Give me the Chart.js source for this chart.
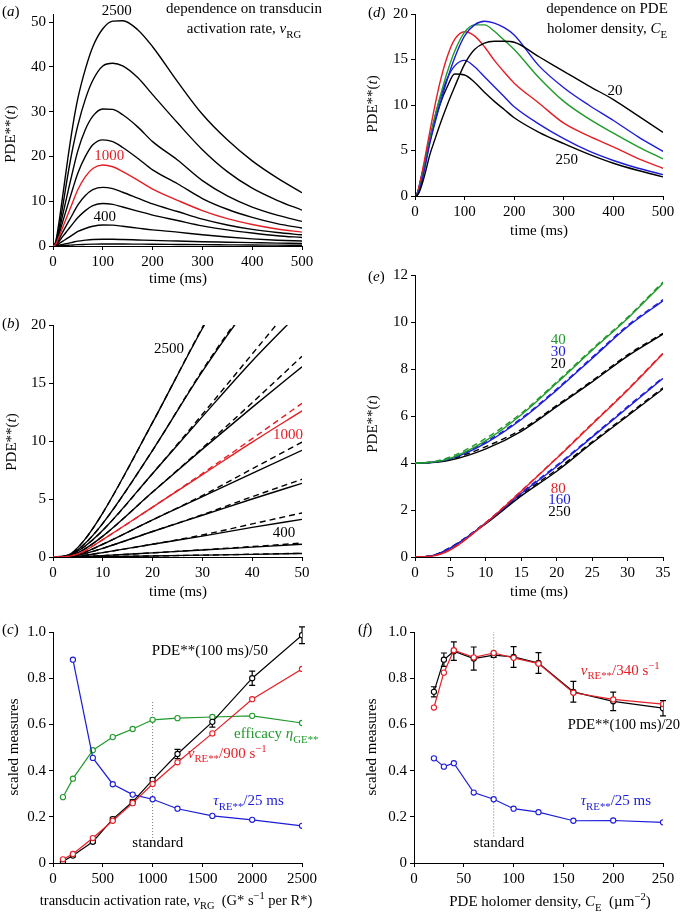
<!DOCTYPE html>
<html lang="en">
<head>
<meta charset="UTF-8">
<title>PDE activation panels</title>
<script src="https://cdn.jsdelivr.net/npm/chart.js"></script>
<style>
  body { margin: 0; background: #fff; }
  canvas { position: absolute; left: 0; top: 0; }
</style>
</head>
<body>
<canvas id="ca" width="680" height="916"></canvas>
<canvas id="cb" width="680" height="916"></canvas>
<canvas id="cc" width="680" height="916"></canvas>
<canvas id="cd" width="680" height="916"></canvas>
<canvas id="ce" width="680" height="916"></canvas>
<canvas id="cf" width="680" height="916"></canvas>
<script>
// ---- (a) PDE**(t) for different transducin activation rates, 0-500 ms
const ta = [0, 5, 10, 20, 30, 40, 50, 65, 80, 100, 120, 140, 170, 200, 250, 300, 350, 400, 450, 500];
const a2500 = [0, 0.8, 3.8, 11.6, 19.7, 27, 33, 39.5, 44.5, 48.5, 50.2, 50.3, 48.3, 44.5, 36.7, 29.4, 23.7, 19.0, 15.2, 11.9];
const a2000 = [0, 0.6, 2.9, 9.2, 16, 22, 27, 32.8, 37, 40.2, 40.8, 40.2, 37.6, 33.8, 27.5, 21.5, 16.6, 12.9, 10.2, 8.0];
const a1600 = [0, 0.5, 2.3, 7.2, 12.1, 16.9, 21.3, 26, 29, 30.6, 30.5, 29.3, 26.6, 23.3, 19.2, 14.6, 11.2, 8.7, 6.9, 5.5];
const a1250 = [0, 0.4, 1.8, 5.6, 9.3, 12.9, 16.3, 20, 22.6, 23.7, 23.3, 22, 19.6, 17, 13.9, 10.6, 8.2, 6.4, 5.0, 4.0];
const a1000 = [0, 0.3, 1.5, 4.3, 7.1, 9.9, 12.6, 15.5, 17.3, 18.1, 17.7, 16.6, 14.7, 12.7, 10.2, 7.9, 6.1, 4.8, 3.8, 3.1];
const a800 = [0, 0.2, 1.1, 3.2, 5.2, 7.2, 9.2, 11.3, 12.6, 13.1, 12.8, 12.0, 10.7, 9.4, 7.7, 6.0, 4.7, 3.7, 3.0, 2.5];
const a600 = [0, 0.15, 0.75, 2.2, 3.6, 5.0, 6.35, 7.9, 9.0, 9.5, 9.3, 8.7, 7.8, 6.9, 5.7, 4.5, 3.6, 2.9, 2.3, 1.9];
const a400 = [0, 0.05, 0.38, 1.1, 1.8, 2.55, 3.24, 3.9, 4.4, 4.7, 4.65, 4.4, 4.0, 3.6, 3.1, 2.5, 2.0, 1.6, 1.3, 1.1];
const a200 = [0, 0.01, 0.12, 0.36, 0.6, 0.85, 1.1, 1.3, 1.45, 1.5, 1.5, 1.45, 1.35, 1.25, 1.1, 0.95, 0.85, 0.75, 0.65, 0.55];
const a100 = [0, 0, 0.03, 0.09, 0.16, 0.23, 0.3, 0.36, 0.41, 0.45, 0.45, 0.44, 0.42, 0.4, 0.35, 0.3, 0.26, 0.22, 0.19, 0.16];

// ---- (b) early rising phase, 0-50 ms (solid = simulation, dashed = approximation)
const tb = [0, 3, 6, 10, 20, 30, 40, 50];
const b2500 = [0, 0.15, 1.3, 3.8, 11.6, 19.7, 27, 33];
const b2000 = [0, 0.12, 1.0, 2.9, 9.2, 16, 22, 27];
const b1600 = [0, 0.1, 0.8, 2.3, 7.2, 12.1, 16.9, 21.3];
const b1250 = [0, 0.07, 0.6, 1.8, 5.6, 9.3, 12.9, 16.4];
const b1000 = [0, 0.05, 0.45, 1.5, 4.3, 7.1, 9.9, 12.6];
const b800 = [0, 0.04, 0.35, 1.1, 3.2, 5.2, 7.2, 9.2];
const b600 = [0, 0.03, 0.25, 0.75, 2.2, 3.6, 5.0, 6.35];
const b400 = [0, 0.01, 0.12, 0.38, 1.1, 1.8, 2.55, 3.24];
const b200 = [0, 0, 0.04, 0.12, 0.36, 0.6, 0.85, 1.1];
const b100 = [0, 0, 0.01, 0.03, 0.09, 0.16, 0.23, 0.3];
const bd2500 = [0, 0.15, 1.3, 3.8, 11.6, 19.8, 27.6, 35];
const bd2000 = [0, 0.12, 1.0, 2.9, 9.2, 16.1, 22.3, 28.4];
const bd1600 = [0, 0.1, 0.8, 2.3, 7.2, 12.3, 17.5, 22.7];
const bd1250 = [0, 0.07, 0.6, 1.8, 5.6, 9.4, 13.3, 17.3];
const bd1000 = [0, 0.05, 0.45, 1.5, 4.3, 7.2, 10.2, 13.25];
const bd800 = [0, 0.04, 0.35, 1.1, 3.2, 5.3, 7.6, 9.9];
const bd600 = [0, 0.03, 0.25, 0.75, 2.2, 3.65, 5.2, 6.7];
const bd400 = [0, 0.01, 0.12, 0.38, 1.1, 1.9, 2.85, 3.8];
const bd200 = [0, 0, 0.04, 0.12, 0.36, 0.62, 0.9, 1.2];
const bd100 = [0, 0, 0.01, 0.03, 0.09, 0.16, 0.24, 0.32];

// ---- (c) scaled measures vs transducin activation rate
const xc = [100, 200, 400, 600, 800, 1000, 1250, 1600, 2000, 2500];
const cPDE = [0.007, 0.032, 0.092, 0.19, 0.265, 0.36, 0.472, 0.611, 0.80, 0.986];
const cPDEerr = [0.004, 0.005, 0.006, 0.008, 0.008, 0.01, 0.02, 0.023, 0.031, 0.036];
const cV = [0.016, 0.039, 0.108, 0.183, 0.259, 0.342, 0.436, 0.561, 0.709, 0.84];
const cEff = [0.285, 0.365, 0.488, 0.545, 0.58, 0.62, 0.627, 0.632, 0.637, 0.606];
const xcTau = [200, 400, 600, 800, 1000, 1250, 1600, 2000, 2500];
const cTau = [0.88, 0.455, 0.341, 0.296, 0.276, 0.235, 0.204, 0.187, 0.161];
const stdCx = [1000, 1000];
const stdCy = [0.108, 0.70];

// ---- (d) PDE**(t) for different PDE holomer densities, 0-500 ms
const td = [0, 5, 10, 20, 30, 40, 50, 65, 80, 100, 120, 140, 160, 180, 200, 250, 300, 350, 400, 450, 500];
const d20 = [0, 0.1, 0.6, 2.4, 4.55, 6.2, 7.8, 10.0, 12.0, 14.5, 16.1, 16.8, 17.0, 17.0, 16.9, 15.3, 13.7, 12.1, 10.6, 8.8, 7.0];
const d30 = [0, 0.15, 0.85, 3.1, 5.8, 8.0, 10.0, 12.8, 15.2, 17.6, 18.8, 19.2, 19.0, 18.5, 17.7, 14.3, 11.9, 10.0, 8.3, 6.5, 4.9];
const d40 = [0, 0.2, 0.95, 3.4, 6.15, 8.7, 10.8, 13.6, 15.9, 18.0, 18.8, 18.8, 18.1, 17.1, 16.1, 13.0, 10.4, 8.5, 6.9, 5.4, 4.07];
const d80 = [0, 0.3, 1.45, 4.2, 7.1, 9.9, 12.4, 15.3, 17.2, 18.05, 17.6, 16.4, 14.9, 13.6, 12.4, 10.2, 8.0, 6.6, 5.4, 4.1, 3.05];
const d160 = [0, 0.38, 1.45, 3.85, 6.35, 8.7, 10.6, 12.9, 14.3, 14.9, 14.2, 13.1, 12.0, 10.9, 9.8, 7.9, 6.3, 4.95, 3.9, 3.05, 2.35];
const d250 = [0, 0.38, 1.42, 3.65, 6.0, 8.2, 10.0, 12.0, 13.4, 13.3, 12.5, 11.4, 10.4, 9.5, 8.6, 7.0, 5.75, 4.6, 3.6, 2.8, 2.1];

// ---- (e) early phase, 0-35 ms (low densities shown shifted up by 4)
const te = [0, 2, 5, 10, 15, 20, 25, 30, 35];
const e40 = [4.0, 4.02, 4.2, 4.95, 6.05, 7.4, 8.8, 10.15, 11.65];
const e30 = [4.0, 4.02, 4.18, 4.85, 5.85, 7.1, 8.45, 9.8, 10.9];
const e20 = [4.0, 4.01, 4.12, 4.6, 5.35, 6.4, 7.45, 8.55, 9.48];
const e80 = [0, 0.02, 0.3, 1.45, 2.8, 4.2, 5.65, 7.1, 8.65];
const e160 = [0, 0.03, 0.38, 1.45, 2.7, 3.85, 5.1, 6.35, 7.6];
const e250 = [0, 0.03, 0.38, 1.42, 2.6, 3.65, 4.85, 6.0, 7.15];
const ed40 = [4.0, 4.03, 4.26, 5.05, 6.12, 7.45, 8.85, 10.2, 11.7];
const ed30 = [4.0, 4.02, 4.2, 4.9, 5.9, 7.15, 8.5, 9.85, 10.95];
const ed20 = [4.0, 4.02, 4.16, 4.7, 5.42, 6.45, 7.5, 8.6, 9.52];
const ed80 = [0, 0.02, 0.32, 1.47, 2.82, 4.22, 5.68, 7.13, 8.68];
const ed160 = [0, 0.03, 0.4, 1.47, 2.74, 3.9, 5.14, 6.4, 7.64];
const ed250 = [0, 0.03, 0.41, 1.46, 2.66, 3.72, 4.9, 6.05, 7.2];

// ---- (f) scaled measures vs PDE holomer density
const xf = [20, 30, 40, 60, 80, 100, 125, 160, 200, 250];
const fPDE = [0.741, 0.88, 0.917, 0.885, 0.90, 0.892, 0.866, 0.741, 0.70, 0.67];
const fPDEerr = [0.022, 0.029, 0.04, 0.05, 0.01, 0.045, 0.045, 0.045, 0.04, 0.033];
const fV = [0.673, 0.824, 0.921, 0.89, 0.909, 0.888, 0.863, 0.737, 0.708, 0.688];
const fTau = [0.453, 0.417, 0.432, 0.305, 0.276, 0.235, 0.22, 0.183, 0.184, 0.176];
const stdFx = [80, 80];
const stdFy = [0.115, 1.0];

const BLACK = '#000', RED = '#e41f26', GREEN = '#1f9a2a', BLUE = '#1c1cd8', GREY = '#777';
const FONT = '"Liberation Serif", "Times New Roman", serif';
const FS = 15;

function pts(xs, ys) { return xs.map((x, i) => ({ x: x, y: ys[i] })); }

function curve(xs, ys, color, dashed) {
  return {
    data: pts(xs, ys), borderColor: color, borderWidth: 1.4, pointRadius: 0,
    cubicInterpolationMode: 'monotone', fill: false, borderDash: dashed ? [6, 4] : []
  };
}

function marked(xs, ys, color, errors) {
  return {
    data: pts(xs, ys), borderColor: color, borderWidth: 1.2, tension: 0,
    pointRadius: 2.6, pointBorderWidth: 1.1, pointBackgroundColor: '#fff',
    pointBorderColor: color, fill: false, errors: errors
  };
}

function dotted(xs, ys) {
  return { data: pts(xs, ys), borderColor: GREY, borderWidth: 1, borderDash: [1, 2], pointRadius: 0 };
}

// rich text: segments are strings or [text, 'i' | 'sub' | 'sup']
function drawRich(ctx, x, y, segs, o) {
  const size = o.size || FS;
  const parts = segs.map(s => typeof s === 'string' ? { t: s } : { t: s[0], k: s[1] });
  const fontOf = p => (p.k === 'i' ? 'italic ' : '') + ((p.k === 'sub' || p.k === 'sup') ? size * 0.72 : size) + 'px ' + FONT;
  ctx.save();
  ctx.fillStyle = o.color || BLACK;
  ctx.textBaseline = o.baseline || 'alphabetic';
  ctx.textAlign = 'left';
  ctx.translate(x, y);
  if (o.rotate) ctx.rotate(-Math.PI / 2);
  let w = 0;
  parts.forEach(p => { ctx.font = fontOf(p); p.w = ctx.measureText(p.t).width; w += p.w; });
  let cx = o.align === 'center' ? -w / 2 : (o.align === 'right' ? -w : 0);
  parts.forEach(p => {
    ctx.font = fontOf(p);
    const dy = p.k === 'sub' ? size * 0.3 : (p.k === 'sup' ? -size * 0.4 : 0);
    ctx.fillText(p.t, cx, dy);
    cx += p.w;
  });
  ctx.restore();
}

function textPlugin(items) {
  return {
    id: 'txt',
    afterDraw(chart) {
      const xs = chart.scales.x, ys = chart.scales.y;
      items.forEach(it => {
        const px = it.abs ? it.x : xs.getPixelForValue(it.x);
        const py = it.abs ? it.y : ys.getPixelForValue(it.y);
        drawRich(chart.ctx, px, py, it.segs, it);
      });
    }
  };
}

const errPlugin = {
  id: 'err',
  beforeDatasetsDraw(chart) {
    const ctx = chart.ctx, xs = chart.scales.x, ys = chart.scales.y;
    chart.data.datasets.forEach(ds => {
      if (!ds.errors) return;
      ctx.save();
      ctx.strokeStyle = ds.borderColor;
      ctx.lineWidth = 1.2;
      ds.data.forEach((p, j) => {
        const e = ds.errors[j];
        const x = xs.getPixelForValue(p.x);
        const y1 = ys.getPixelForValue(p.y - e), y2 = ys.getPixelForValue(p.y + e);
        ctx.beginPath();
        ctx.moveTo(x, y1); ctx.lineTo(x, y2);
        ctx.moveTo(x - 3, y1); ctx.lineTo(x + 3, y1);
        ctx.moveTo(x - 3, y2); ctx.lineTo(x + 3, y2);
        ctx.stroke();
      });
      ctx.restore();
    });
  }
};

function axis(o, isX) {
  return {
    type: 'linear', min: o.min, max: o.max,
    ticks: {
      stepSize: o.step, color: BLACK, padding: 3, maxRotation: 0, autoSkip: false,
      includeBounds: false, font: { family: FONT, size: FS },
      callback: o.fmt || (v => String(v))
    },
    grid: { drawOnChartArea: false, drawTicks: true, tickLength: 4, color: BLACK, tickColor: BLACK },
    border: { display: true, color: BLACK, width: 1 },
    afterFit: s => { if (isX) s.height = 30; else s.width = 40; }
  };
}

function makeChart(id, area, xo, yo, datasets, items) {
  // area = plot rectangle in page pixels: [left, top, right, bottom]
  const pad = { left: area[0] - 40, top: area[1], right: 680 - area[2], bottom: 916 - area[3] - 30 };
  return new Chart(document.getElementById(id), {
    type: 'line',
    data: { datasets: datasets },
    options: {
      responsive: false, animation: false, devicePixelRatio: 1,
      layout: { padding: pad },
      plugins: { legend: { display: false }, tooltip: { enabled: false } },
      scales: { x: axis(xo, true), y: axis(yo, false) }
    },
    plugins: [errPlugin, textPlugin(items)]
  });
}

const PDEt = ['PDE**(', ['t', 'i'], ')'];
const frac = v => v === 0 ? '0' : v.toFixed(1);

// (a)
makeChart('ca', [53, 14, 302, 246], { min: 0, max: 500, step: 100 }, { min: 0, max: 51.8, step: 10 }, [
  curve(ta, a1000, RED),
  curve(ta, a2500, BLACK), curve(ta, a2000, BLACK), curve(ta, a1600, BLACK), curve(ta, a1250, BLACK),
  curve(ta, a800, BLACK), curve(ta, a600, BLACK), curve(ta, a400, BLACK), curve(ta, a200, BLACK), curve(ta, a100, BLACK)
], [
  { abs: true, x: 2, y: 16, segs: ['(', ['a', 'i'], ')'] },
  { abs: true, x: 11, y: 134, rotate: true, align: 'center', baseline: 'middle', segs: PDEt },
  { abs: true, x: 178, y: 283, align: 'center', segs: ['time (ms)'] },
  { abs: true, x: 244, y: 13, align: 'center', segs: ['dependence on transducin'] },
  { abs: true, x: 244, y: 33, align: 'center', segs: ['activation rate, ', ['v', 'i'], ['RG', 'sub']] },
  { x: 128, y: 51.6, align: 'center', segs: ['2500'] },
  { x: 113, y: 19.2, align: 'center', color: RED, segs: ['1000'] },
  { x: 104, y: 5.65, align: 'center', segs: ['400'] }
]);

// (b)
makeChart('cb', [53, 325, 302, 557], { min: 0, max: 50, step: 10 }, { min: 0, max: 20, step: 5 }, [
  curve(tb, b1000, RED), curve(tb, bd1000, RED, true),
  curve(tb, b2500, BLACK), curve(tb, bd2500, BLACK, true),
  curve(tb, b2000, BLACK), curve(tb, bd2000, BLACK, true),
  curve(tb, b1600, BLACK), curve(tb, bd1600, BLACK, true),
  curve(tb, b1250, BLACK), curve(tb, bd1250, BLACK, true),
  curve(tb, b800, BLACK), curve(tb, bd800, BLACK, true),
  curve(tb, b600, BLACK), curve(tb, bd600, BLACK, true),
  curve(tb, b400, BLACK), curve(tb, bd400, BLACK, true),
  curve(tb, b200, BLACK), curve(tb, bd200, BLACK, true),
  curve(tb, b100, BLACK), curve(tb, bd100, BLACK, true)
], [
  { abs: true, x: 2, y: 328, segs: ['(', ['b', 'i'], ')'] },
  { abs: true, x: 12, y: 442, rotate: true, align: 'center', baseline: 'middle', segs: PDEt },
  { abs: true, x: 178, y: 596, align: 'center', segs: ['time (ms)'] },
  { x: 23.3, y: 17.6, align: 'center', segs: ['2500'] },
  { x: 47.2, y: 10.2, align: 'center', color: RED, segs: ['1000'] },
  { x: 46.4, y: 1.7, align: 'center', segs: ['400'] }
]);

// (c)
makeChart('cc', [53, 632, 302, 863], { min: 0, max: 2500, step: 500 }, { min: 0, max: 1, step: 0.2, fmt: frac }, [
  marked(xc, cV, RED),
  marked(xc, cPDE, BLACK, cPDEerr),
  marked(xcTau, cTau, BLUE),
  marked(xc, cEff, GREEN),
  dotted(stdCx, stdCy)
], [
  { abs: true, x: 2, y: 634, segs: ['(', ['c', 'i'], ')'] },
  { abs: true, x: 14, y: 747, rotate: true, align: 'center', baseline: 'middle', segs: ['scaled measures'] },
  { abs: true, x: 176, y: 905, align: 'center', size: 14.5,
    segs: ['transducin activation rate, ', ['v', 'i'], ['RG', 'sub'], '  (G* s', ['\u22121', 'sup'], ' per R*)'] },
  { x: 1576, y: 0.90, align: 'center', segs: ['PDE**(100 ms)/50'] },
  { x: 1818, y: 0.541, color: GREEN, segs: ['efficacy ', ['\u03b7', 'i'], ['GE**', 'sub']] },
  { x: 1353, y: 0.455, color: RED, segs: [['v', 'i'], ['RE**', 'sub'], '/900 s', ['\u22121', 'sup']] },
  { x: 1610, y: 0.251, color: BLUE, segs: [['\u03c4', 'i'], ['RE**', 'sub'], '/25 ms'] },
  { x: 1052, y: 0.069, align: 'center', segs: ['standard'] }
]);

// (d)
makeChart('cd', [415, 14, 663, 196], { min: 0, max: 500, step: 100 }, { min: 0, max: 20, step: 5 }, [
  curve(td, d20, BLACK), curve(td, d30, BLUE), curve(td, d40, GREEN),
  curve(td, d80, RED), curve(td, d160, BLUE), curve(td, d250, BLACK)
], [
  { abs: true, x: 368, y: 17, segs: ['(', ['d', 'i'], ')'] },
  { abs: true, x: 373, y: 104, rotate: true, align: 'center', baseline: 'middle', segs: PDEt },
  { abs: true, x: 539, y: 235, align: 'center', segs: ['time (ms)'] },
  { abs: true, x: 607, y: 13, align: 'center', segs: ['dependence on PDE'] },
  { abs: true, x: 607, y: 33, align: 'center', segs: ['holomer density, ', ['C', 'i'], ['E', 'sub']] },
  { x: 403, y: 11.1, align: 'center', segs: ['20'] },
  { x: 306, y: 3.5, align: 'center', segs: ['250'] }
]);

// (e)
makeChart('ce', [415, 275, 663, 557], { min: 0, max: 35, step: 5 }, { min: 0, max: 12, step: 2 }, [
  curve(te, ed40, GREEN, true), curve(te, e40, GREEN),
  curve(te, ed30, BLUE, true), curve(te, e30, BLUE),
  curve(te, ed20, BLACK, true), curve(te, e20, BLACK),
  curve(te, ed80, RED, true), curve(te, e80, RED),
  curve(te, ed160, BLUE, true), curve(te, e160, BLUE),
  curve(te, ed250, BLACK, true), curve(te, e250, BLACK)
], [
  { abs: true, x: 368, y: 281, segs: ['(', ['e', 'i'], ')'] },
  { abs: true, x: 373, y: 424, rotate: true, align: 'center', baseline: 'middle', segs: PDEt },
  { abs: true, x: 539, y: 596, align: 'center', segs: ['time (ms)'] },
  { x: 20.2, y: 9.05, align: 'center', color: GREEN, segs: ['40'] },
  { x: 20.2, y: 8.55, align: 'center', color: BLUE, segs: ['30'] },
  { x: 20.2, y: 8.03, align: 'center', segs: ['20'] },
  { x: 20.2, y: 2.71, align: 'center', color: RED, segs: ['80'] },
  { x: 20.4, y: 2.26, align: 'center', color: BLUE, segs: ['160'] },
  { x: 20.4, y: 1.74, align: 'center', segs: ['250'] }
]);

// (f)
makeChart('cf', [414, 632, 663, 863], { min: 0, max: 250, step: 50 }, { min: 0, max: 1, step: 0.2, fmt: frac }, [
  marked(xf, fV, RED),
  marked(xf, fPDE, BLACK, fPDEerr),
  marked(xf, fTau, BLUE),
  dotted(stdFx, stdFy)
], [
  { abs: true, x: 358, y: 634, segs: ['(', ['f', 'i'], ')'] },
  { abs: true, x: 372, y: 747, rotate: true, align: 'center', baseline: 'middle', segs: ['scaled measures'] },
  { abs: true, x: 550, y: 906, align: 'center',
    segs: ['PDE holomer density, ', ['C', 'i'], ['E', 'sub'], '  (\u00b5m', ['\u22122', 'sup'], ')'] },
  { x: 167.4, y: 0.814, color: RED, segs: [['v', 'i'], ['RE**', 'sub'], '/340 s', ['\u22121', 'sup']] },
  { abs: true, x: 680, y: 729, align: 'right', size: 14.5, segs: ['PDE**(100 ms)/20'] },
  { x: 167.4, y: 0.251, color: BLUE, segs: [['\u03c4', 'i'], ['RE**', 'sub'], '/25 ms'] },
  { x: 85.3, y: 0.068, align: 'center', segs: ['standard'] }
]);
</script>
</body>
</html>
